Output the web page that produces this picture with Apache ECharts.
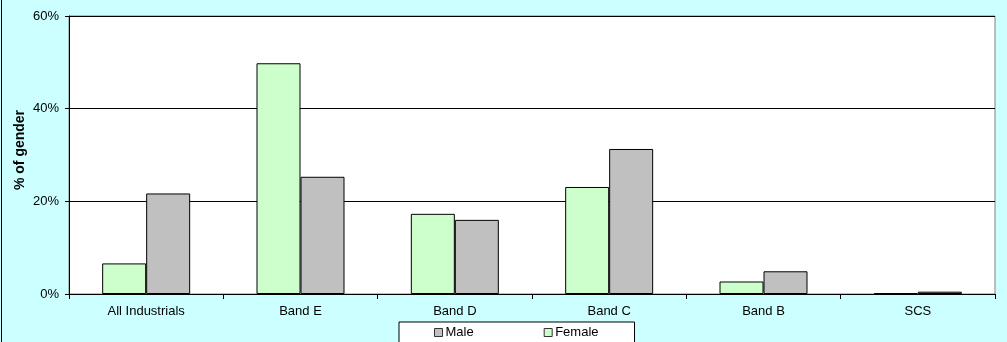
<!DOCTYPE html>
<html>
<head>
<meta charset="utf-8">
<script src="https://cdn.jsdelivr.net/npm/echarts@6/dist/echarts.min.js"></script>
<style>
  html, body { margin: 0; padding: 0; background: #ccffff; }
  #chart { width: 1007px; height: 342px; }
</style>
</head>
<body>
<div id="chart"></div>
<script>
var categories = ['All Industrials', 'Band E', 'Band D', 'Band C', 'Band B', 'SCS'];
var female = [6.6, 49.8, 17.3, 23.1, 2.7, 0.2];
var male = [21.7, 25.3, 16.0, 31.3, 4.9, 0.5];
var yTicks = [0, 20, 40, 60];

var font = 'Liberation Sans, Arial, sans-serif';
var chart = echarts.init(document.getElementById('chart'));

chart.setOption({
    backgroundColor: '#ccffff',
    animation: false,
    textStyle: { fontFamily: font, color: '#000' },
    grid: {
        left: 69, right: 12, top: 16, bottom: 48,
        show: true,
        backgroundColor: '#ffffff',
        borderColor: '#808080',
        borderWidth: 1
    },
    legend: {
        data: ['Male', 'Female'],
        left: 399,
        top: 322,
        icon: 'rect',
        itemWidth: 8,
        itemHeight: 8,
        itemGap: 70,
        padding: [4, 36, 8, 35],
        backgroundColor: '#ffffff',
        borderColor: '#000',
        borderWidth: 1,
        borderRadius: 0,
        textStyle: { fontFamily: font, fontSize: 13, color: '#000', padding: [0, 0, 0, -2] },
        itemStyle: { borderColor: '#333', borderWidth: 1 }
    },
    xAxis: {
        type: 'category',
        data: categories,
        axisLine: { show: true, lineStyle: { color: '#000', width: 1 } },
        axisTick: { show: true, length: 5, lineStyle: { color: '#000' } },
        axisLabel: { fontFamily: font, fontSize: 13, color: '#000', margin: 11, interval: 0 }
    },
    yAxis: {
        type: 'value',
        min: yTicks[0],
        max: yTicks[yTicks.length - 1],
        interval: 20,
        name: '% of gender',
        nameLocation: 'middle',
        nameGap: 42,
        nameMoveOverlap: false,
        nameTextStyle: { fontFamily: font, fontSize: 14, fontWeight: 'bold', color: '#000', padding: [0, 0, 0, 10] },
        axisLine: { show: true, lineStyle: { color: '#000', width: 1 } },
        axisTick: { show: true, length: 4, lineStyle: { color: '#000' } },
        axisLabel: { fontFamily: font, fontSize: 13, color: '#000', margin: 10, formatter: '{value}%' },
        splitLine: { show: true, lineStyle: { color: '#000', width: 1 } }
    },
    series: [
        {
            name: 'Female',
            type: 'bar',
            data: female,
            barWidth: 44,
            barGap: '0%',
            itemStyle: { color: '#ccffcc', borderColor: '#000', borderWidth: 1 }
        },
        {
            name: 'Male',
            type: 'bar',
            data: male,
            barWidth: 44,
            barGap: '0%',
            itemStyle: { color: '#c0c0c0', borderColor: '#000', borderWidth: 1 }
        }
    ],
    graphic: [
        {
            type: 'line',
            shape: { x1: 1.5, y1: 0, x2: 1.5, y2: 342 },
            style: { stroke: '#000', lineWidth: 1 }
        }
    ]
});
</script>
</body>
</html>
